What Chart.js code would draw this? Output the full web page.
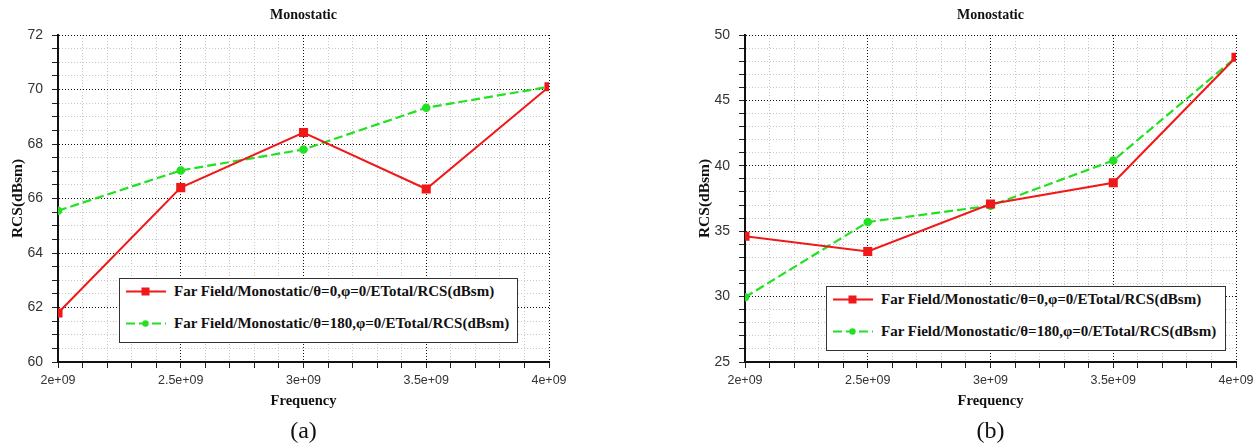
<!DOCTYPE html>
<html>
<head>
<meta charset="utf-8">
<script src="https://cdn.jsdelivr.net/npm/chart.js@4.4.1/dist/chart.umd.min.js"></script>
<style>
  body { margin: 0; background: #fff; width: 1259px; height: 447px; overflow: hidden; position: relative; }
  .wrap { position: absolute; top: 0; width: 572px; height: 447px; }
  .legend {
    position: absolute; background: #fff; border: 1.5px solid #333;
    font: bold 15px "Liberation Serif", "Times New Roman", serif; color: #111;
  }
  .legend .row { position: absolute; left: 6px; display: flex; align-items: center; white-space: nowrap; }
  .legend svg { margin-right: 8px; }
</style>
</head>
<body>
<div class="wrap" style="left:0"><canvas id="chartA"></canvas></div>
<div class="wrap" style="left:687px"><canvas id="chartB"></canvas></div>
<div class="legend" id="legendA" style="left:119px; top:278px; width:397px; height:63px"></div>
<div class="legend" id="legendB" style="left:826px; top:286px; width:398px; height:63px"></div>
<script>
// frequency points (Hz)
const freqs = [2e9, 2.5e9, 3e9, 3.5e9, 4e9];
const seriesNames = [
  'Far Field/Monostatic/θ=0,φ=0/ETotal/RCS(dBsm)',
  'Far Field/Monostatic/θ=180,φ=0/ETotal/RCS(dBsm)'
];

// (a)
const rcsA_theta0 = [61.8, 66.4, 68.42, 66.35, 70.1];
const rcsA_theta180 = [65.55, 67.03, 67.8, 69.33, 70.1];
// (b)
const rcsB_theta0 = [34.62, 33.45, 37.08, 38.7, 48.3];
const rcsB_theta180 = [29.95, 35.7, 36.95, 40.4, 48.3];

const RED = '#f01818';
const GREEN = '#22e022';

function pts(ys) {
  return freqs.map((f, i) => ({ x: f, y: ys[i] }));
}

const near = (v, step) => Math.abs(v / step - Math.round(v / step)) < 1e-6;

function makeChart(id, red, green, yMin, yMax, yMinor, yMajor, caption) {
  const ctx = document.getElementById(id).getContext('2d');
  return new Chart(ctx, {
    type: 'line',
    data: {
      datasets: [{
        label: seriesNames[0],
        data: pts(red),
        borderColor: RED,
        backgroundColor: RED,
        borderWidth: 2,
        pointStyle: 'rect',
        pointRadius: 5,
        tension: 0
      }, {
        label: seriesNames[1],
        data: pts(green),
        borderColor: GREEN,
        backgroundColor: GREEN,
        borderWidth: 2.2,
        borderDash: [9, 4],
        pointStyle: 'circle',
        pointRadius: 3.2,
        tension: 0
      }]
    },
    options: {
      responsive: false,
      animation: false,
      devicePixelRatio: 1,
      layout: { padding: { left: 0, right: 23, top: 0, bottom: 0 } },
      plugins: {
        legend: { display: false },
        tooltip: { enabled: false },
        title: {
          display: true,
          text: 'Monostatic',
          fullSize: false,
          color: '#111',
          font: { family: '"Liberation Serif", serif', size: 14, weight: 'bold' },
          padding: { top: 6.5, bottom: 11.7 }
        },
        subtitle: {
          display: true,
          text: caption,
          position: 'bottom',
          fullSize: false,
          color: '#111',
          font: { family: '"Liberation Serif", serif', size: 24, weight: 'normal' },
          padding: { top: 5.6, bottom: 0.6 }
        }
      },
      scales: {
        x: {
          type: 'linear',
          min: 2e9, max: 4e9,
          afterFit: s => { s.height = 50; },
          ticks: {
            stepSize: 1e8,
            autoSkip: false,
            maxRotation: 0,
            padding: 5,
            color: '#333',
            font: { family: '"Liberation Sans", Arial, sans-serif', size: 12.5 },
            callback: v => near(v, 5e8) ? (v / 1e9) + 'e+09' : ''
          },
          grid: {
            color: c => near(c.tick.value, 5e8) ? '#111' : '#c8c8c8',
            lineWidth: 1,
            tickColor: '#222',
            tickLength: 6
          },
          border: { display: true, color: '#111', width: 2, dash: [1, 2] },
          title: {
            display: true,
            text: 'Frequency',
            color: '#111',
            font: { family: '"Liberation Serif", serif', size: 14.5, weight: 'bold' },
            padding: { top: 1, bottom: 2.5 }
          }
        },
        y: {
          min: yMin, max: yMax,
          afterFit: s => { s.width = 58; },
          ticks: {
            stepSize: yMinor,
            autoSkip: false,
            padding: 9,
            color: '#333',
            font: { family: '"Liberation Sans", Arial, sans-serif', size: 14 },
            callback: v => near(v, yMajor) ? String(Math.round(v)) : ''
          },
          grid: {
            color: c => near(c.tick.value, yMajor) ? '#111' : '#c8c8c8',
            lineWidth: 1,
            tickColor: '#222',
            tickLength: 6
          },
          border: { display: true, color: '#111', width: 2, dash: [1, 2] },
          title: {
            display: true,
            text: 'RCS(dBsm)',
            color: '#111',
            font: { family: '"Liberation Serif", serif', size: 15.5, weight: 'bold' },
            padding: { top: 9, bottom: 2 }
          }
        }
      }
    }
  });
}

function sampleSvg(ds) {
  const dash = ds.borderDash ? `stroke-dasharray="${ds.borderDash.join(' ')}"` : '';
  const marker = ds.pointStyle === 'rect'
    ? `<rect x="15.5" y="2.5" width="8" height="8" fill="${ds.backgroundColor}"/>`
    : `<circle cx="19.5" cy="6.5" r="3.2" fill="${ds.backgroundColor}"/>`;
  return `<svg width="40" height="13"><line x1="0" y1="6.5" x2="40" y2="6.5" stroke="${ds.borderColor}" stroke-width="2" ${dash}/>${marker}</svg>`;
}

function buildLegend(chart, el) {
  chart.data.datasets.forEach((ds, i) => {
    const row = document.createElement('div');
    row.className = 'row';
    row.style.top = (i === 0 ? 4 : 36) + 'px';
    row.innerHTML = sampleSvg(ds) + '<span>' + ds.label + '</span>';
    el.appendChild(row);
  });
}

const canvasA = document.getElementById('chartA');
const canvasB = document.getElementById('chartB');
canvasA.width = 572; canvasA.height = 447;
canvasB.width = 572; canvasB.height = 447;

const chartA = makeChart('chartA', rcsA_theta0, rcsA_theta180, 60, 72, 0.5, 2, '(a)');
const chartB = makeChart('chartB', rcsB_theta0, rcsB_theta180, 25, 50, 1, 5, '(b)');
buildLegend(chartA, document.getElementById('legendA'));
buildLegend(chartB, document.getElementById('legendB'));
</script>
</body>
</html>
